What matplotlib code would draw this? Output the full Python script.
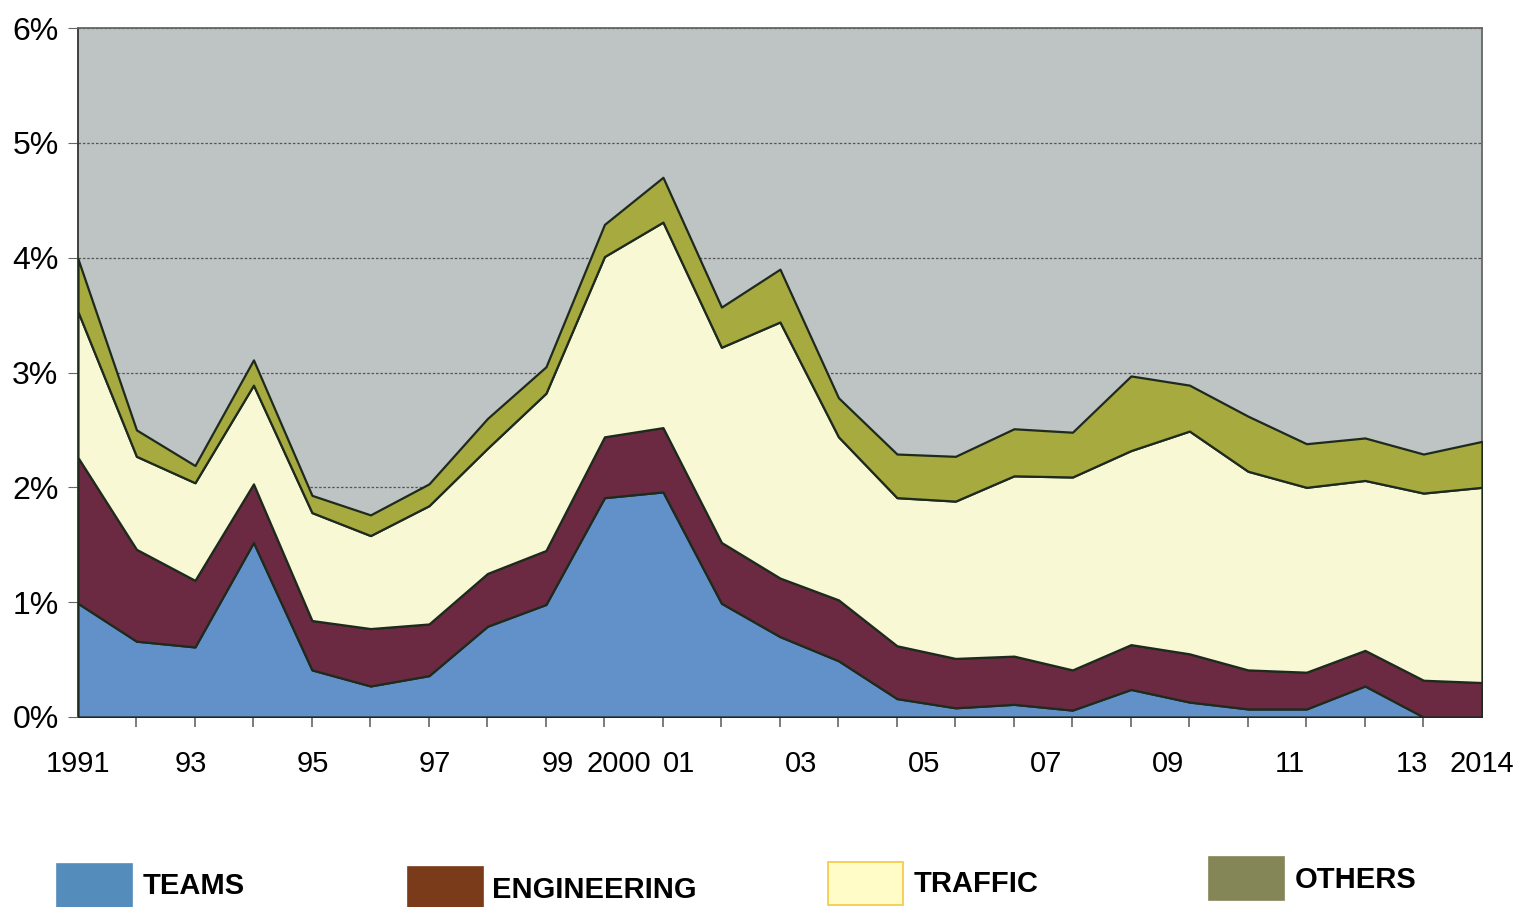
import numpy as np
import matplotlib.pyplot as plt
import matplotlib.transforms as mtransforms
from matplotlib.patches import Rectangle

# share of spending by category, % (25 points spanning 1991-2014)
teams = [0.99, 0.66, 0.61, 1.52, 0.41, 0.27, 0.36, 0.79, 0.98, 1.91, 1.96, 0.99, 0.70,
         0.49, 0.16, 0.08, 0.11, 0.06, 0.24, 0.13, 0.07, 0.07, 0.27, 0.00, 0.00]
engineering = [1.27, 0.80, 0.58, 0.51, 0.43, 0.50, 0.45, 0.46, 0.47, 0.53, 0.56, 0.53, 0.51,
               0.53, 0.46, 0.43, 0.42, 0.35, 0.39, 0.42, 0.34, 0.32, 0.31, 0.32, 0.30]
traffic = [1.27, 0.81, 0.85, 0.86, 0.94, 0.81, 1.03, 1.09, 1.37, 1.57, 1.79, 1.70, 2.23,
           1.42, 1.29, 1.37, 1.57, 1.68, 1.69, 1.94, 1.73, 1.61, 1.48, 1.63, 1.70]
others = [0.46, 0.23, 0.15, 0.22, 0.15, 0.18, 0.19, 0.26, 0.23, 0.28, 0.39, 0.35, 0.46,
          0.34, 0.38, 0.39, 0.41, 0.39, 0.65, 0.40, 0.48, 0.38, 0.37, 0.34, 0.40]

year_ticks = [1991, 1993, 1995, 1997, 1999, 2000, 2001, 2003, 2005, 2007, 2009, 2011, 2013, 2014]
year_labels = ["1991", "93", "95", "97", "99", "2000", "01", "03", "05", "07", "09", "11", "13", "2014"]

names = ["TEAMS", "ENGINEERING", "TRAFFIC", "OTHERS"]
fill_colors = ["#6290c8", "#6c2a42", "#f8f8d4", "#a7aa3e"]
key_colors = ["#548cbc", "#7a3b1a", "#fffcc8", "#848658"]
key_edges = ["#548cbc", "#7a3b1a", "#f5c842", "#848658"]

plt.rcParams["font.family"] = ["Liberation Sans", "DejaVu Sans"]

x = np.linspace(1991, 2014, len(teams))

fig = plt.figure(figsize=(15.17, 9.07), dpi=100)
ax = fig.add_axes([0.0514, 0.2095, 0.9255, 0.7596])
ax.set_facecolor("#bec3c3")

ax.stackplot(x, teams, engineering, traffic, others, colors=fill_colors,
             edgecolor="#1e2a1e", linewidth=1.6, zorder=3)

ax.set_xlim(1991, 2014)
ax.set_ylim(0, 6)
ax.set_yticks(range(0, 7))
ax.set_yticklabels([f"{v}%" for v in range(0, 7)], fontsize=23)
ax.yaxis.grid(True, color="#555555", linewidth=0.9, linestyle=(0, (2, 1.5)), zorder=1)

ax.set_xticks(year_ticks)
ax.set_xticklabels(year_labels, fontsize=21)
ax.tick_params(axis="x", which="major", length=0, pad=24)
ax.set_xticks(x, minor=True)
ax.tick_params(axis="x", which="minor", length=7, color="#666666", width=1.2)
ax.tick_params(axis="y", length=7, color="#666666", pad=7)

# year labels sit a little left of their years
shift = mtransforms.ScaledTranslation(-0.09, 0, fig.dpi_scale_trans)
for lab in ax.get_xticklabels():
    if lab.get_text() not in ("1991", "2014"):
        lab.set_transform(lab.get_transform() + shift)

for side in ["left", "top", "right", "bottom"]:
    ax.spines[side].set_color("#666666")
    ax.spines[side].set_linewidth(1.3)
ax.spines["left"].set_color("#333333")

# legend keys along the bottom of the figure
key_pos = [(57, 864, 143, 886), (408, 867, 492, 890), (828, 862, 914, 884), (1209, 857, 1295, 880)]
W, H = 1517, 907
for name, fc, ec, (px, py, tx, ty) in zip(names, key_colors, key_edges, key_pos):
    fig.patches.append(Rectangle((px / W, 1 - (py + 43) / H), 75 / W, 43 / H,
                                 transform=fig.transFigure, facecolor=fc,
                                 edgecolor=ec, linewidth=1.2))
    fig.text(tx / W, 1 - ty / H, name, fontsize=21, fontweight="bold",
             va="center", ha="left")

fig.savefig("out.png", dpi=100)
